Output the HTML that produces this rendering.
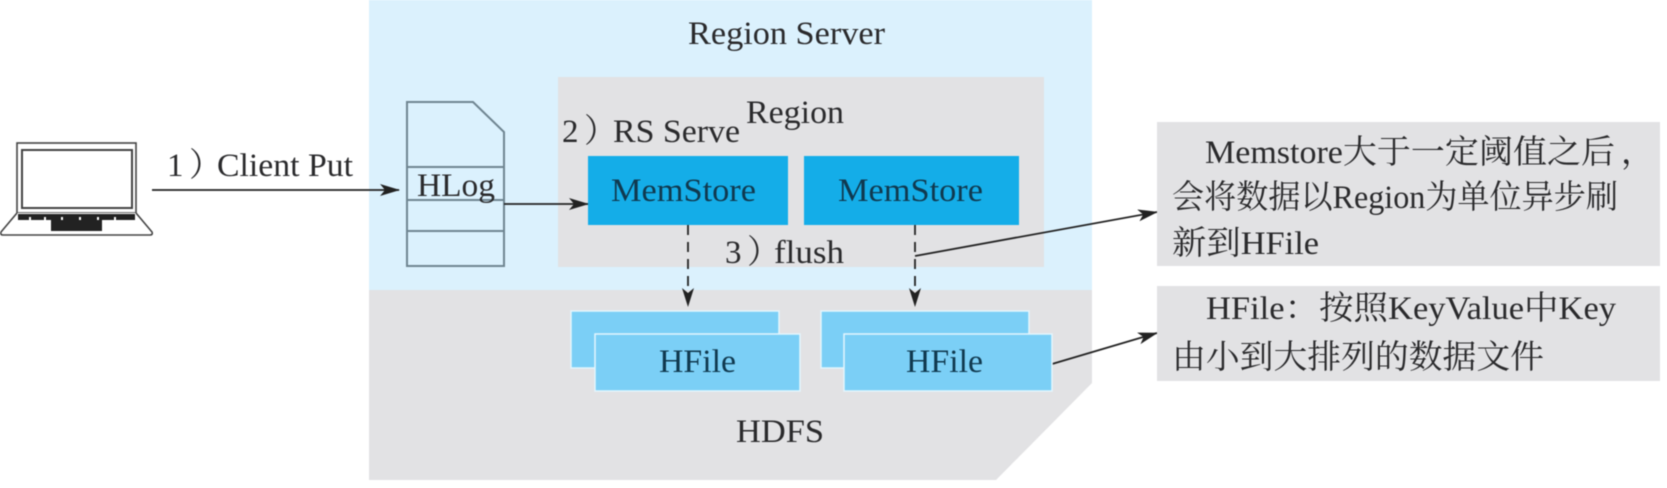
<!DOCTYPE html>
<html><head><meta charset="utf-8">
<style>
html,body{margin:0;padding:0;background:#fff;width:1667px;height:488px;overflow:hidden}
svg{display:block;filter:blur(0.6px)}
text{font-family:"Liberation Serif","Noto Serif CJK SC",serif;font-size:33px;fill:#2a2a2c}
.d{fill:#10394f}
</style></head><body>
<svg width="1667" height="488" viewBox="0 0 1667 488">
<defs>
<marker id="a" viewBox="0 0 20 12" refX="19" refY="6" markerWidth="20" markerHeight="12" markerUnits="userSpaceOnUse" orient="auto"><path d="M0 0L20 6L0 12L5 6Z" fill="#222"/></marker>
</defs>
<rect x="369" y="0" width="723" height="291" fill="#dbf1fd"/>
<path d="M369 290H1092V383L996 480H369Z" fill="#e2e2e4"/>
<rect x="558" y="77" width="486" height="190" fill="#e2e2e4"/>

<!-- laptop -->
<g fill="none" stroke="#444" stroke-width="1.6">
<rect x="17" y="143" width="119" height="70" fill="#fff"/>
<rect x="22" y="150" width="110" height="58" stroke-width="2"/>
<path d="M17 213L1 232Q0 235 3 235H150Q153 235 152 232L136 213" fill="#fff"/>
</g>
<path d="M18 214h117v6h-117z" fill="#222"/>
<path d="M30 217v3M45 217v3M62 217v3M80 217v3M98 217v3M115 217v3" stroke="#fff" stroke-width="2"/>
<rect x="51" y="220" width="51" height="11" fill="#222"/>

<!-- HLog -->
<path d="M407 102H473L504 132V266H407Z" fill="none" stroke="#6f8591" stroke-width="2"/>
<path d="M407 167H504M407 200H504M407 231H504" stroke="#6f8591" stroke-width="2"/>
<text x="417" y="196" textLength="78" lengthAdjust="spacingAndGlyphs">HLog</text>

<text x="167" y="176">1</text><text x="189" y="176">）</text>
<text x="217" y="176" textLength="136" lengthAdjust="spacingAndGlyphs">Client Put</text>
<line x1="152" y1="190" x2="399" y2="190" stroke="#222" stroke-width="1.8" marker-end="url(#a)"/>
<line x1="504" y1="204" x2="588" y2="204" stroke="#222" stroke-width="1.8" marker-end="url(#a)"/>

<text x="688" y="44" textLength="197" lengthAdjust="spacingAndGlyphs">Region Server</text>
<text x="562" y="142">2</text><text x="584" y="142">）</text>
<text x="613" y="142" textLength="127" lengthAdjust="spacingAndGlyphs">RS Serve</text>
<text x="746" y="123" textLength="98" lengthAdjust="spacingAndGlyphs">Region</text>

<rect x="588" y="156" width="200" height="69" fill="#14ade8"/>
<rect x="804" y="156" width="215" height="69" fill="#14ade8"/>
<text x="611" y="201" class="d" textLength="145" lengthAdjust="spacingAndGlyphs">MemStore</text>
<text x="838" y="201" class="d" textLength="145" lengthAdjust="spacingAndGlyphs">MemStore</text>

<line x1="688" y1="225" x2="688" y2="306" stroke="#222" stroke-width="1.8" stroke-dasharray="10 7" />
<line x1="915" y1="225" x2="915" y2="306" stroke="#222" stroke-width="1.8" stroke-dasharray="10 7" />
<path d="M682 288L688 307L694 288L688 293Z" fill="#222"/>
<path d="M909 288L915 307L921 288L915 293Z" fill="#222"/>

<text x="725" y="263">3</text><text x="747" y="263">）</text>
<text x="774" y="263" textLength="70" lengthAdjust="spacingAndGlyphs">flush</text>

<line x1="915" y1="256" x2="1157" y2="212" stroke="#222" stroke-width="1.8" marker-end="url(#a)"/>
<line x1="1052" y1="364" x2="1157" y2="333" stroke="#222" stroke-width="1.8" marker-end="url(#a)"/>

<!-- HFile -->
<g fill="#7bcff6" stroke="#e4f6fe" stroke-width="1.5">
<rect x="571" y="311" width="208" height="57"/>
<rect x="595" y="334" width="205" height="57"/>
<rect x="821" y="311" width="208" height="57"/>
<rect x="844" y="334" width="208" height="57"/>
</g>
<text x="659" y="372" class="d" textLength="77" lengthAdjust="spacingAndGlyphs">HFile</text>
<text x="906" y="372" class="d" textLength="77" lengthAdjust="spacingAndGlyphs">HFile</text>
<text x="736" y="442" textLength="88" lengthAdjust="spacingAndGlyphs">HDFS</text>

<!-- Notes -->
<rect x="1157" y="122" width="503" height="144" fill="#e2e2e4"/>
<rect x="1157" y="286" width="503" height="95" fill="#e2e2e4"/>
<text x="1205" y="163" textLength="410" lengthAdjust="spacingAndGlyphs">Memstore大于一定阈值之后</text>
<text x="1621" y="163">，</text>
<text x="1172" y="208" textLength="446" lengthAdjust="spacingAndGlyphs">会将数据以Region为单位异步刷</text>
<text x="1172" y="254" textLength="147" lengthAdjust="spacingAndGlyphs">新到HFile</text>
<text x="1206" y="319" textLength="410" lengthAdjust="spacingAndGlyphs">HFile：按照KeyValue中Key</text>
<text x="1172" y="368" textLength="372" lengthAdjust="spacingAndGlyphs">由小到大排列的数据文件</text>
</svg>
</body></html>
